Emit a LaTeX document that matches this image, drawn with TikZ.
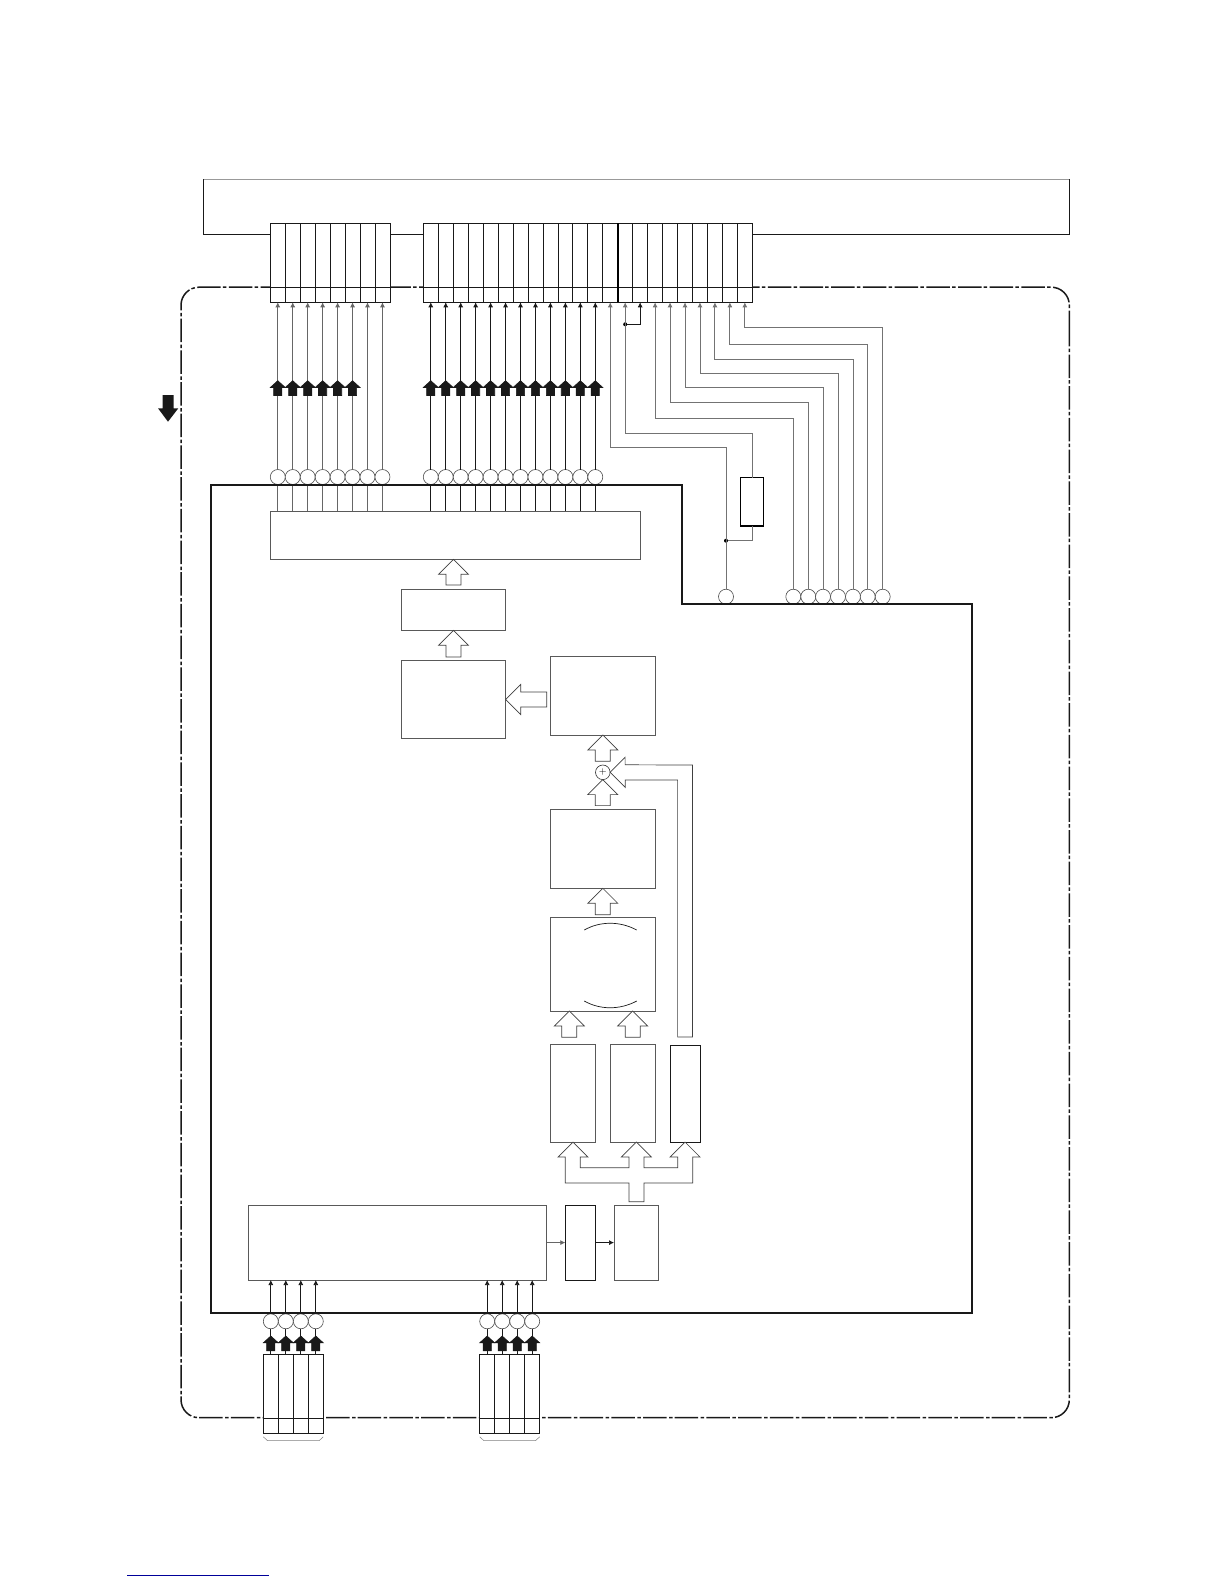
\documentclass[tikz,border=0pt]{standalone}
\usepackage{xcolor}
\usetikzlibrary{arrows.meta,positioning,calc}
\newcommand{\hollowup}[2]{\draw[hollow] #1 -- ++(15,15) -- ++(-7.5,0) -- ++(0,#2) -- ++(-15,0) -- ++(0,-#2) -- ++(-7.5,0) -- cycle;}
\newcommand{\fatup}[1]{\filldraw[draw=black!90, fill=black!90, line width=0.6pt, line join=miter] #1 -- ++(7.5,6.8) -- ++(-3.4,0) -- ++(0,8) -- ++(-8.2,0) -- ++(0,-8) -- ++(-3.4,0) -- cycle;}
\begin{document}
\begin{tikzpicture}[
    x=1pt, y=-1pt,
    >={Latex[length=5pt,width=5pt]},
    box/.style={draw=black!65, line width=0.9pt, inner sep=0pt, outer sep=0pt},
    blackbox/.style={box, draw=black!90},
    cell/.style={draw=black!90, fill=white, line width=0.8pt, inner sep=0pt, outer sep=0pt, minimum width=14.955pt, minimum height=79pt},
    term/.style={draw=black!70, fill=white, circle, line width=0.6pt, inner sep=0pt, outer sep=0pt, minimum size=15pt},
    junction/.style={fill=black, circle, inner sep=0pt, minimum size=4pt},
    lead/.style={draw=black!60, line width=0.8pt},
    darklead/.style={draw=black!90, line width=0.7pt},
    route/.style={draw=black!55, line width=0.9pt},
    hollow/.style={draw=black!75, fill=white, line width=0.7pt, line join=miter},
    frame/.style={draw=black!90, line width=1.7pt},
    border/.style={draw=black!90, line width=1.5pt, rounded corners=18pt, dash pattern=on 23.5pt off 2.5pt on 3.5pt off 2.2pt},
    bracket/.style={draw=black!50, line width=0.5pt}
]
\useasboundingbox (0,0) rectangle (1224,1584);

\node[blackbox, minimum width=865.8pt, minimum height=55.4pt] (panel) at (636.4,206.7) {};
\draw[draw=black!40, line width=1pt] (panel.north west) -- (panel.north east);
\draw[border] (1069.3,352) |- (181,287.2) |- (1069.3,1417.7) -- cycle;

\foreach \i in {1,...,8}{
  \node[cell] (ca\i) at ({270.3+14.955*(\i-0.5)},262.8) {};
}
\foreach \i in {1,...,22}{
  \node[cell] (cb\i) at ({423.3+14.955*(\i-0.5)},262.8) {};
}
\foreach \i in {1,...,4}{
  \node[cell] (cc\i) at ({263.3+15*(\i-0.5)},1393.8) {};
  \node[cell] (cd\i) at ({479.7+15*(\i-0.5)},1393.8) {};
}
\draw[darklead] (ca1.west |- 0,287.2) -- (ca8.east |- 0,287.2);
\draw[darklead] (cb1.west |- 0,287.2) -- (cb22.east |- 0,287.2);
\draw[darklead] (cc1.west |- 0,1418) -- (cc4.east |- 0,1418);
\draw[darklead] (cd1.west |- 0,1418) -- (cd4.east |- 0,1418);
\draw[draw=black, line width=1.6pt] (cb13.north east) -- (cb13.south east);
\draw[bracket] ($(cc1.south west)+(0,3.5)$) -- ++(4,3.7) -- ($(cc4.south east)+(-4,7.2)$) -- ++(4,-3.7);
\draw[bracket] ($(cd1.south west)+(0,3.5)$) -- ++(4,3.7) -- ($(cd4.south east)+(-4,7.2)$) -- ++(4,-3.7);

\node[box, minimum width=370pt, minimum height=48.3pt] (driver) at (455.3,535.15) {};
\node[box, minimum width=104.4pt, minimum height=41pt] (latch) at (453.5,609.8) {};
\node[box, minimum width=104.4pt, minimum height=78.4pt] (mixer) at (453.5,699.5) {};
\node[box, minimum width=105pt, minimum height=78.3pt] (ram) at (602.8,695.85) {};
\node[box, minimum width=105pt, minimum height=79pt, below=74.3pt of ram] (scaler) {};
\node[box, minimum width=105pt, minimum height=93.3pt, below=29.4pt of scaler] (decoder) {};
\node[box, minimum width=45pt, minimum height=97.3pt] (left) at (572.8,1093.35) {};
\node[box, minimum width=45pt, minimum height=97.3pt, right=15pt of left] (right) {};
\node[blackbox, minimum width=30pt, minimum height=97pt] (osd) at (685.3,1093.8) {};
\node[box, minimum width=298.7pt, minimum height=74.8pt] (input) at (397.35,1242.6) {};
\node[blackbox, minimum width=30pt, minimum height=74.8pt, right=18.6pt of input] (sync) {};
\node[box, minimum width=44.7pt, minimum height=74.8pt, right=18.7pt of sync] (timing) {};
\node[draw=black!80, circle, line width=0.6pt, inner sep=0pt, outer sep=0pt, minimum size=14.6pt] (sum) at (602.8,772.3) {$+$};
\node[draw=black, line width=1.5pt, inner sep=0pt, outer sep=0pt, minimum width=23pt, minimum height=48.3pt] (res) at (752.2,501.85) {};

\draw[darklead] (584.3,930) .. controls (600,921) and (620,921) .. (636.7,930);
\draw[darklead] (584.3,1001) .. controls (600,1010) and (620,1010) .. (636.7,1001);

\foreach \i in {1,...,8}{
  \node[term] (a\i) at (ca\i |- 0,477) {};
  \draw[lead,->] (a\i) -- (ca\i.south);
  \draw[lead] (a\i) -- (a\i |- driver.north);
}
\foreach \i in {1,...,12}{
  \node[term] (b\i) at (cb\i |- 0,477) {};
  \draw[darklead,->] (b\i) -- (cb\i.south);
  \draw[darklead] (b\i) -- (b\i |- driver.north);
  \fatup{(b\i |- 0,380.7)}
}
\foreach \i in {1,...,6}{
  \fatup{(a\i |- 0,380.7)}
}
\foreach \i in {1,...,4}{
  \node[term] (c\i) at (cc\i |- 0,1321.3) {};
  \node[term] (d\i) at (cd\i |- 0,1321.3) {};
  \draw[darklead] (cc\i.north) -- (c\i);
  \draw[darklead] (cd\i.north) -- (d\i);
  \draw[darklead,->] (c\i) -- (c\i |- input.south);
  \draw[darklead,->] (d\i) -- (d\i |- input.south);
  \fatup{(c\i |- 0,1336)}
  \fatup{(d\i |- 0,1336)}
}

\foreach \i/\j/\y/\x in {1/16/418/793.3,2/17/402.7/808.3,3/18/387/823,4/19/373.3/838,5/20/359.3/853,6/21/344.3/867.7,7/22/327.3/882.7}{
  \node[term] (r\i) at (\x,596.7) {};
  \draw[route,->] (r\i) -- (r\i |- 0,\y) -| (cb\j.south);
}
\node[term] (m) at (726,596.7) {};
\node[junction] (tap) at (m |- 0,540.7) {};
\node[junction] (link) at (cb14 |- 0,324.3) {};
\draw[route,->] (m) -- (m |- 0,447.3) -| (cb13.south);
\draw[route,->] (res.north) -- (res.north |- 0,433) -| (cb14.south);
\draw[route] (res.south) |- (tap);
\draw[darklead,->] (link) -| (cb15.south);

\draw[frame] (210.7,485) -- (682,485) -- (682,603.7) -- (972,603.7) -- (972,1313.3) -- (210.7,1313.3) -- cycle;

\hollowup{(latch.north |- driver.south)}{10.7}
\hollowup{(mixer.north |- latch.south)}{11.7}
\hollowup{(ram.south)}{11.3}
\hollowup{(sum.south)}{11}
\hollowup{(scaler.south)}{11.4}
\hollowup{(569.3,1011)}{11.3}
\hollowup{(632.7,1011)}{11.3}
\draw[hollow] (mixer.east) -- ++(15,-15) -- ++(0,7.5) -- ++(26,0) -- ++(0,15) -- ++(-26,0) -- ++(0,7.5) -- cycle;
\draw[hollow] (sum.east) -- ++(15,-15) -- ++(0,7.5) -- (692.4,765) -- (692.4,1037) -- (677.6,1037) -- (677.6,780) -- (625.3,780) -- ++(0,7.5) -- cycle;
\draw[hollow] (629,1201.7) -- (629,1183) -- (565.3,1183) -- (565.3,1157) -- (558,1157) -- (573,1142) -- (588,1157) -- (580.3,1157) -- (580.3,1167.7) -- (629,1167.7) -- (629,1157) -- (621.3,1157) -- (636.3,1142) -- (651.3,1157) -- (644,1157) -- (644,1167.7) -- (677.7,1167.7) -- (677.7,1157) -- (670,1157) -- (685,1142) -- (700,1157) -- (692.7,1157) -- (692.7,1183) -- (644,1183) -- (644,1201.7) -- cycle;

\draw[lead,->] (input) -- (sync);
\draw[darklead,->] (sync) -- (timing);

\fill[black!90] (162.7,395) -- (173.7,395) -- (173.7,408.3) -- (178.3,408.3) -- (168,421.7) -- (158,408.3) -- (162.7,408.3) -- cycle;
\draw[draw=blue!60!black, line width=1pt] (127,1575.3) -- (269,1575.3);
\end{tikzpicture}
\end{document}
